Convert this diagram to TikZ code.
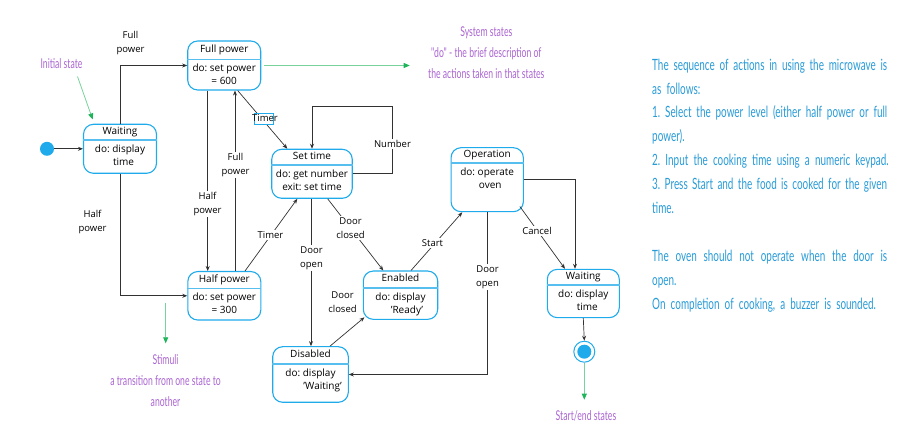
\documentclass[tikz,border=0pt]{standalone}
\usepackage{fontspec}
\setmainfont{Open Sans}
\newfontfamily\annot[FakeStretch=0.64]{Lato}
\usetikzlibrary{arrows.meta,calc}
\definecolor{boxblue}{RGB}{30,170,235}
\definecolor{linegray}{RGB}{50,50,50}
\definecolor{annpurple}{RGB}{170,100,210}
\definecolor{anngreen}{RGB}{30,180,90}
\definecolor{textblue}{RGB}{40,155,215}
\frenchspacing
\newcommand{\jline}[1]{\leavevmode\hbox to 235pt{#1}}
\tikzset{
 statebox/.style={draw=boxblue, line width=1.1pt, rounded corners=10pt, fill=white, inner sep=0pt},
 sepline/.style={draw=boxblue!75, line width=1.6pt},
 titletext/.style={font=\fontsize{10}{12}\selectfont, inner sep=0pt, text height=7pt, text depth=2pt},
 bodytext/.style={font=\fontsize{10}{13}\selectfont, align=center, inner sep=0pt},
 arr/.style={draw=linegray, line width=0.7pt, -{Stealth[length=5pt,width=4pt]}},
 lbl/.style={font=\fontsize{9.5}{14}\selectfont, align=center, fill=white, inner sep=1.5pt},
 garr/.style={draw=anngreen!60, line width=0.8pt, -{Triangle[length=6pt,width=5pt,color=anngreen]}},
 anntext/.style={font=\annot\fontsize{13.5}{21}\selectfont, text=annpurple, align=center, inner sep=0pt},
}
\newcommand{\mystate}[8]{%
  \node[statebox, minimum width=#4pt, minimum height=#5pt] (#1) at (#2,#3) {};
  \coordinate (#1-sep) at (#2,#6);
  \draw[sepline] (#1.west |- #1-sep) -- (#1.east |- #1-sep);
  \path (#1.north) -- (#1-sep) node[midway, titletext] (#1-t) {#7};
  \node[bodytext, anchor=north] (#1-b) at ([yshift=-4.5pt]#1-sep) {#8};
}
\begin{document}
\begin{tikzpicture}[x=1pt,y=-1pt]
\useasboundingbox (0,0) rectangle (905,427);

% states
\mystate{wait}{120}{148.8}{73}{49}{140}{Waiting}{do: display\\\hspace*{7pt}time}
\mystate{fp}{224.2}{65.5}{73}{49}{59.5}{Full power}{do: set power\\= 600}
\mystate{hp}{224.3}{295.8}{73}{48.5}{288.5}{Half power}{do: set power\\= 300}
\mystate{st}{312}{173.8}{80.5}{49}{165}{Set time}{do: get number\\exit: set time}
\mystate{en}{400.5}{295.2}{74.4}{48.3}{288.3}{Enabled}{do: display\\\hspace*{13pt}'Ready'}
\mystate{dis}{310.5}{374.5}{75.6}{55.6}{364.3}{Disabled}{do: display\\\hspace*{24pt}'Waiting'}
\mystate{op}{487.2}{179.7}{72.3}{64}{163.3}{Operation}{do: operate\\\hspace*{6pt}oven}
\mystate{wtwo}{583.3}{293.5}{72}{48.3}{285}{Waiting}{do: display\\\hspace*{8pt}time}

% initial and final states
\node[circle, fill=boxblue, minimum size=14pt, inner sep=0pt] (init) at (47,148.8) {};
\node[circle, draw=boxblue, line width=1pt, fill=white, minimum size=21pt, inner sep=0pt] (fin) at (584.3,351.7) {};
\node[circle, fill=boxblue, minimum size=14pt, inner sep=0pt] (finin) at (fin.center) {};

% transitions
\draw[arr] (init) -- (wait.west);
\draw[arr] (wait.north) |- (fp.west);
\draw[arr] (wait.south) |- (hp.west);
\draw[arr] ([xshift=-16.5pt]fp.south) -- ([xshift=-16.5pt]fp.south |- hp.north);
\draw[arr] ([xshift=10.7pt]hp.north) -- ([xshift=10.7pt]hp.north |- fp.south);
\draw[arr] ([xshift=13.5pt]fp.south) -- ([xshift=-24.7pt]st.north);
\coordinate (loopr) at (392.5,106);
\draw[arr] (st.east) -| (loopr) -| (st.north);
\draw[arr] ([xshift=20.7pt]hp.north) -- ([xshift=-14.7pt]st.south);
\draw[arr] ([xshift=-1pt]st.south) -- ([xshift=-1pt]st.south |- dis.north);
\draw[arr] ([xshift=15.7pt]st.south) -- ([xshift=-17.2pt]en.north);
\draw[arr] ([xshift=19.5pt]dis.north) -- ([xshift=1.7pt,yshift=2.6pt]en.south west);
\draw[arr] ([xshift=10.5pt]en.north) -- ([xshift=-24.9pt]op.south);
\draw[arr] (op.south) |- (dis.east);
\draw[arr] ([xshift=-4pt,yshift=5.7pt]op.south east) -- ([xshift=-18.3pt]wtwo.north);
\draw[arr] (op.east) -| ([xshift=-8.3pt]wtwo.north);
\draw[arr] (wtwo.south) -- (fin.north);

% transition labels
\node[lbl, fill=none] (l-fp1) at (130.5,43.5) {Full\\power};
\node[lbl, fill=none] (l-hp1) at (92.5,222) {Half\\power};
\node[lbl] (l-fp2) at (207.5,204) {Half\\power};
\node[lbl] (l-hp2) at (235.5,165) {Full\\power};
\node[draw=boxblue, line width=0.8pt, fill=white, minimum width=19pt, minimum height=11pt, inner sep=0pt] (tbox) at (263.5,118.5) {};
\node[lbl, fill=none, inner sep=0pt] (l-t1) at ([xshift=1.5pt]tbox.center) {Timer};
\node[lbl] (l-t2) at (270.5,234.7) {Timer};
\node[lbl] (l-num) at (392.5,144) {Number};
\node[lbl] (l-do1) at (311.5,258.3) {Door\\open};
\node[lbl] (l-dc1) at (350.5,227.7) {Door\\closed};
\node[lbl, fill=none] (l-dc2) at (342.5,302.5) {Door\\closed};
\node[lbl] (l-start) at (432.5,243.3) {Start};
\node[lbl] (l-do2) at (487.5,277.3) {Door\\open};
\node[lbl] (l-cancel) at (537,230.7) {Cancel};

% annotations
\node[anntext] (a-init) at (61.5,63.3) {Initial state};
\draw[garr] ([xshift=16pt,yshift=-8pt]a-init.south) -- ([xshift=-27.3pt,yshift=4.3pt]wait.north);
\node[anntext] (a-sys) at (486.3,52.5) {System states\\"do" - the brief description of\\the actions taken in that states};
\coordinate (sysarr) at (406.7,64.3);
\draw[garr] ([xshift=3pt]fp.east) -- ([xshift=3pt]fp.east -| sysarr);
\coordinate (stim-start) at (165.7,303.3);
\node[anntext] (a-stim) at (165.5,381) {Stimuli\\a transition from one state to\\another};
\draw[garr] (stim-start) -- ++(0,40);
\node[anntext] (a-end) at (586,416) {Start/end states};
\draw[garr] (fin.south) -- ++(0,37);

% description
\node[font=\annot\fontsize{15.5}{23.9}\selectfont, text=textblue, text width=235pt, align=left, inner sep=0pt, anchor=north west] (desc) at (652,58.5) {%
\jline{The\hfil sequence\hfil of\hfil actions\hfil in\hfil using\hfil the\hfil microwave\hfil is}\\
\mbox{as follows:}\\
\jline{1.\hfil Select\hfil the\hfil power\hfil level\hfil (either\hfil half\hfil power\hfil or\hfil full}\\
\mbox{power).}\\
\mbox{2. Input the cooking time using a numeric keypad.}\\
\jline{3.\hfil Press\hfil Start\hfil and\hfil the\hfil food\hfil is\hfil cooked\hfil for\hfil the\hfil given}\\
\mbox{time.}\\
\mbox{}\\
\jline{The\hfil oven\hfil should\hfil not\hfil operate\hfil when\hfil the\hfil door\hfil is}\\
\mbox{open.}\\
\mbox{On completion of cooking, a buzzer is sounded.}};
\end{tikzpicture}
\end{document}
